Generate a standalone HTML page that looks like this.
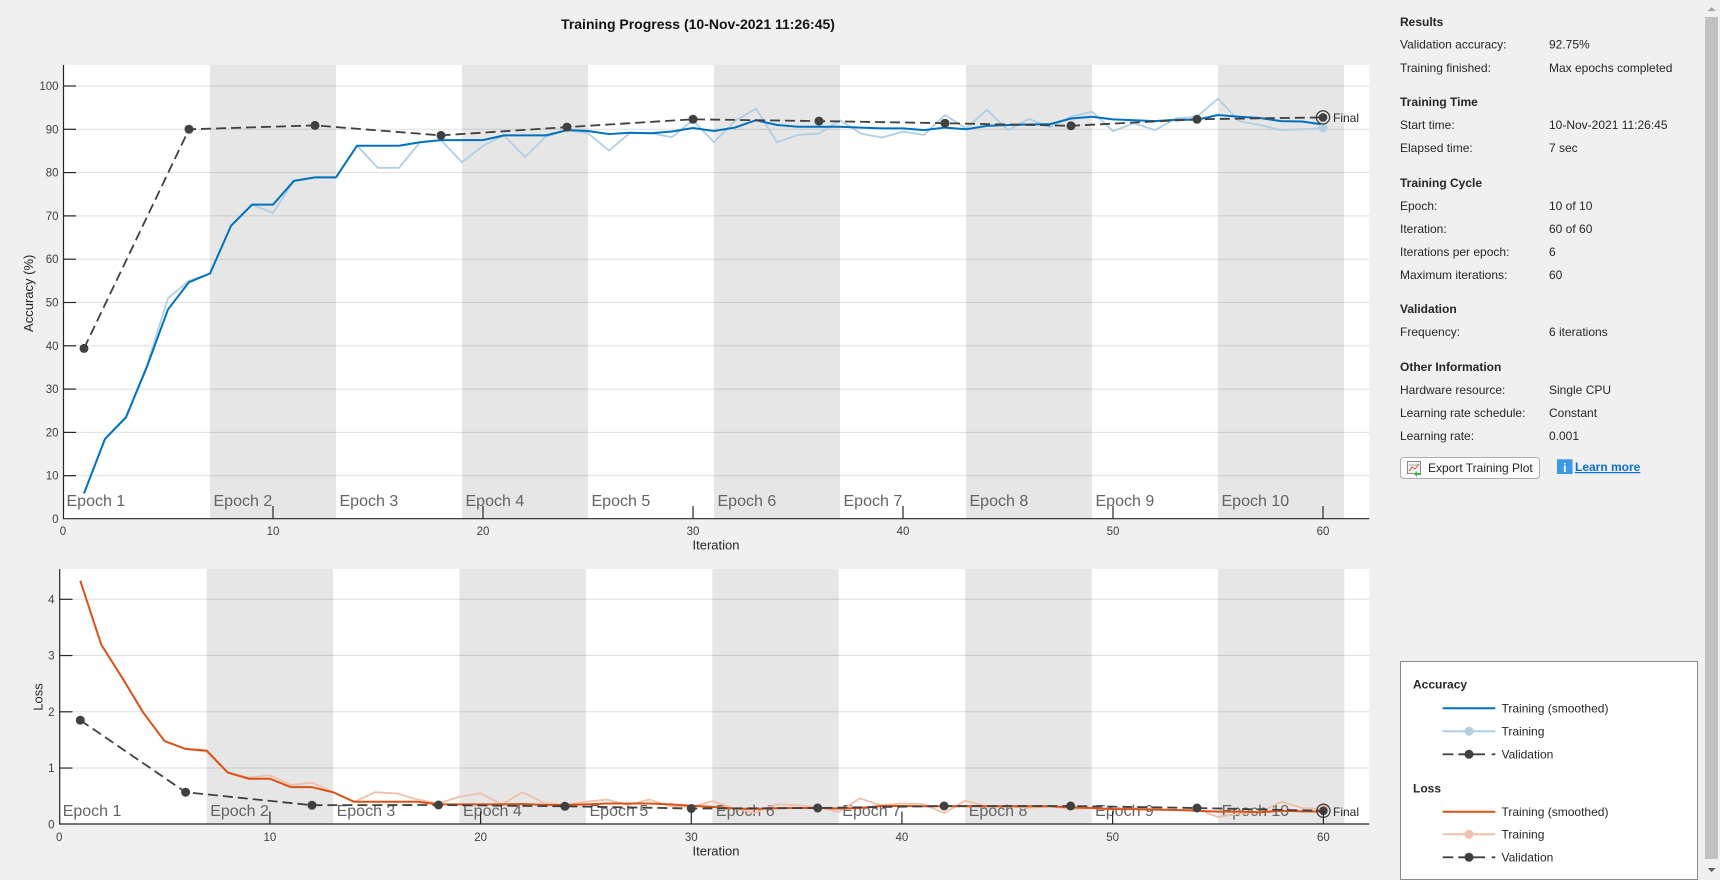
<!DOCTYPE html>
<html><head><meta charset="utf-8"><style>
html,body{margin:0;padding:0;background:#f0f0f0;width:1720px;height:880px;overflow:hidden}
svg{display:block}
text{font-family:"Liberation Sans",Arial,sans-serif}
</style></head><body>
<svg width="1720" height="880" viewBox="0 0 1720 880" xmlns="http://www.w3.org/2000/svg">
<rect x="0" y="0" width="1720" height="880" fill="#f0f0f0"/>

<!-- Title -->
<text x="698" y="29" text-anchor="middle" font-size="14" font-weight="bold" fill="#141414">Training Progress (10-Nov-2021 11:26:45)</text>

<!-- ================= TOP AXES ================= -->
<rect x="63" y="65" width="1306.3" height="454" fill="#ffffff"/>
<g fill="#e6e6e6">
<rect x="210" y="65" width="126" height="454"/>
<rect x="462" y="65" width="126" height="454"/>
<rect x="714" y="65" width="126" height="454"/>
<rect x="966" y="65" width="126" height="454"/>
<rect x="1218" y="65" width="126" height="454"/>
</g>
<g stroke="#262626" stroke-opacity="0.15" stroke-width="1">
<line x1="63" x2="1369.3" y1="475.7" y2="475.7"/>
<line x1="63" x2="1369.3" y1="432.4" y2="432.4"/>
<line x1="63" x2="1369.3" y1="389.1" y2="389.1"/>
<line x1="63" x2="1369.3" y1="345.8" y2="345.8"/>
<line x1="63" x2="1369.3" y1="302.5" y2="302.5"/>
<line x1="63" x2="1369.3" y1="259.2" y2="259.2"/>
<line x1="63" x2="1369.3" y1="215.9" y2="215.9"/>
<line x1="63" x2="1369.3" y1="172.6" y2="172.6"/>
<line x1="63" x2="1369.3" y1="129.3" y2="129.3"/>
<line x1="63" x2="1369.3" y1="86" y2="86"/>
</g>
<g font-size="16" fill="#646464">
<text x="66.5" y="506">Epoch 1</text>
<text x="213.5" y="506">Epoch 2</text>
<text x="339.5" y="506">Epoch 3</text>
<text x="465.5" y="506">Epoch 4</text>
<text x="591.5" y="506">Epoch 5</text>
<text x="717.5" y="506">Epoch 6</text>
<text x="843.5" y="506">Epoch 7</text>
<text x="969.5" y="506">Epoch 8</text>
<text x="1095.5" y="506">Epoch 9</text>
<text x="1221.5" y="506">Epoch 10</text>
</g>
<g transform="matrix(21 0 0 -4.33 63 519)" fill="none" stroke-linejoin="round">
<polyline vector-effect="non-scaling-stroke" stroke="#b0cfe6" stroke-width="1.8" points="1,5.9 2,18.5 3,23.5 4,35.5 5,51 6,55 7,56.7 8,67.7 9,72.6 10,70.7 11,78.1 12,78.9 13,78.9 14,86.2 15,81.1 16,81.1 17,87 18,87.5 19,82.4 20,86.2 21,88.6 22,83.6 23,88.3 24,89.8 25,89.1 26,85.1 27,89.2 28,89.1 29,88.2 30,92.1 31,87 32,91.9 33,94.8 34,87 35,88.7 36,89 37,92.1 38,89 39,88.1 40,89.5 41,88.7 42,93.3 43,90.2 44,94.5 45,89.8 46,92.4 47,90.5 48,92.9 49,94.1 50,89.6 51,91.4 52,89.8 53,92.5 54,92.9 55,97.1 56,91.9 57,91 58,89.8 59,90 60,90.3"/>
<polyline vector-effect="non-scaling-stroke" stroke="#0072bd" stroke-width="2" points="1,5.9 2,18.5 3,23.5 4,35.2 5,48.4 6,54.7 7,56.7 8,67.7 9,72.6 10,72.6 11,78.1 12,78.9 13,78.9 14,86.2 15,86.2 16,86.2 17,87 18,87.5 19,87.5 20,87.5 21,88.6 22,88.6 23,88.6 24,89.8 25,89.6 26,88.9 27,89.2 28,89.1 29,89.5 30,90.3 31,89.6 32,90.4 33,92.1 34,91 35,90.6 36,90.6 37,90.6 38,90.4 39,90.2 40,90.2 41,89.8 42,90.4 43,90 44,90.8 45,91 46,91.1 47,91.2 48,92.5 49,92.9 50,92.3 51,92.1 52,91.9 53,92.2 54,92.2 55,93.3 56,92.9 57,92.6 58,91.9 59,91.8 60,91.1"/>
</g>
<circle cx="1323" cy="128" r="4.5" fill="#b0cfe6"/>
<polyline fill="none" stroke="#404040" stroke-width="1.8" stroke-dasharray="10,5" points="84,348.4 189,129.3 315,125.4 441,135.4 567,127.1 693,119.3 819,121.1 945,123.2 1071,125.8 1197,119.3 1323,117.4"/>
<g fill="#404040">
<circle cx="84" cy="348.4" r="4.5"/>
<circle cx="189" cy="129.3" r="4.5"/>
<circle cx="315" cy="125.4" r="4.5"/>
<circle cx="441" cy="135.4" r="4.5"/>
<circle cx="567" cy="127.1" r="4.5"/>
<circle cx="693" cy="119.3" r="4.5"/>
<circle cx="819" cy="121.1" r="4.5"/>
<circle cx="945" cy="123.2" r="4.5"/>
<circle cx="1071" cy="125.8" r="4.5"/>
<circle cx="1197" cy="119.3" r="4.5"/>
<circle cx="1323" cy="117.4" r="4.3"/>
</g>
<circle cx="1323" cy="117.4" r="6.6" fill="none" stroke="#404040" stroke-width="1.3"/>
<text x="1333" y="122" font-size="12" fill="#262626">Final</text>
<!-- axes lines & ticks -->
<g stroke="#262626" stroke-width="1.2">
<line x1="63.5" y1="65" x2="63.5" y2="519"/>
<line x1="63" y1="518.7" x2="1369.3" y2="518.7"/>
<line x1="63" x2="76" y1="475.7" y2="475.7"/>
<line x1="63" x2="76" y1="432.4" y2="432.4"/>
<line x1="63" x2="76" y1="389.1" y2="389.1"/>
<line x1="63" x2="76" y1="345.8" y2="345.8"/>
<line x1="63" x2="76" y1="302.5" y2="302.5"/>
<line x1="63" x2="76" y1="259.2" y2="259.2"/>
<line x1="63" x2="76" y1="215.9" y2="215.9"/>
<line x1="63" x2="76" y1="172.6" y2="172.6"/>
<line x1="63" x2="76" y1="129.3" y2="129.3"/>
<line x1="63" x2="76" y1="86" y2="86"/>
<line x1="273" x2="273" y1="506" y2="519"/>
<line x1="483" x2="483" y1="506" y2="519"/>
<line x1="693" x2="693" y1="506" y2="519"/>
<line x1="903" x2="903" y1="506" y2="519"/>
<line x1="1113" x2="1113" y1="506" y2="519"/>
<line x1="1323" x2="1323" y1="506" y2="519"/>
</g>
<g font-size="11.5" fill="#404040" text-anchor="end">
<text x="58.5" y="523">0</text>
<text x="58.5" y="479.7">10</text>
<text x="58.5" y="436.4">20</text>
<text x="58.5" y="393.1">30</text>
<text x="58.5" y="349.8">40</text>
<text x="58.5" y="306.5">50</text>
<text x="58.5" y="263.2">60</text>
<text x="58.5" y="219.9">70</text>
<text x="58.5" y="176.6">80</text>
<text x="58.5" y="133.3">90</text>
<text x="58.5" y="90">100</text>
</g>
<g font-size="11.5" fill="#404040" text-anchor="middle">
<text x="63" y="535">0</text>
<text x="273" y="535">10</text>
<text x="483" y="535">20</text>
<text x="693" y="535">30</text>
<text x="903" y="535">40</text>
<text x="1113" y="535">50</text>
<text x="1323" y="535">60</text>
</g>
<text x="716" y="549.5" font-size="13" fill="#262626" text-anchor="middle">Iteration</text>
<text transform="translate(33,293.3) rotate(-90)" font-size="13" fill="#262626" text-anchor="middle">Accuracy (%)</text>

<!-- ================= BOTTOM AXES ================= -->
<rect x="59.2" y="569" width="1310.1" height="255.3" fill="#ffffff"/>
<g fill="#e6e6e6">
<rect x="206.7" y="569" width="126.4" height="255.3"/>
<rect x="459.5" y="569" width="126.4" height="255.3"/>
<rect x="712.4" y="569" width="126.4" height="255.3"/>
<rect x="965.2" y="569" width="126.4" height="255.3"/>
<rect x="1218" y="569" width="126.4" height="255.3"/>
</g>
<g stroke="#262626" stroke-opacity="0.15" stroke-width="1">
<line x1="59.2" x2="1369.3" y1="768.05" y2="768.05"/>
<line x1="59.2" x2="1369.3" y1="711.8" y2="711.8"/>
<line x1="59.2" x2="1369.3" y1="655.55" y2="655.55"/>
<line x1="59.2" x2="1369.3" y1="599.3" y2="599.3"/>
</g>
<g font-size="16" fill="#646464">
<text x="62.7" y="816">Epoch 1</text>
<text x="210.2" y="816">Epoch 2</text>
<text x="336.6" y="816">Epoch 3</text>
<text x="463" y="816">Epoch 4</text>
<text x="589.5" y="816">Epoch 5</text>
<text x="715.9" y="816">Epoch 6</text>
<text x="842.3" y="816">Epoch 7</text>
<text x="968.7" y="816">Epoch 8</text>
<text x="1095.1" y="816">Epoch 9</text>
<text x="1221.6" y="816">Epoch 10</text>
</g>
<g transform="matrix(21.07 0 0 -56.25 59.2 824.3)" fill="none" stroke-linejoin="round">
<polyline vector-effect="non-scaling-stroke" stroke="#f0c0a8" stroke-width="1.8" points="1,4.33 2,3.19 3,2.6 4,1.98 5,1.48 6,1.34 7,1.29 8,0.92 9,0.83 10,0.87 11,0.7 12,0.74 13,0.57 14,0.4 15,0.57 16,0.55 17,0.44 18,0.37 19,0.49 20,0.55 21,0.355 22,0.57 23,0.38 24,0.343 25,0.4 26,0.44 27,0.34 28,0.44 29,0.32 30,0.31 31,0.41 32,0.29 33,0.2 34,0.355 35,0.34 36,0.31 37,0.22 38,0.46 39,0.34 40,0.37 41,0.36 42,0.2 43,0.42 44,0.32 45,0.32 46,0.29 47,0.32 48,0.27 49,0.29 50,0.27 51,0.28 52,0.27 53,0.255 54,0.27 55,0.13 56,0.19 57,0.22 58,0.4 59,0.29 60,0.27"/>
<polyline vector-effect="non-scaling-stroke" stroke="#d95319" stroke-width="2" points="1,4.33 2,3.19 3,2.6 4,1.98 5,1.48 6,1.34 7,1.31 8,0.92 9,0.81 10,0.81 11,0.66 12,0.66 13,0.57 14,0.4 15,0.4 16,0.4 17,0.4 18,0.355 19,0.355 20,0.355 21,0.355 22,0.36 23,0.345 24,0.343 25,0.355 26,0.37 27,0.37 28,0.37 29,0.355 30,0.33 31,0.31 32,0.28 33,0.275 34,0.285 35,0.29 36,0.29 37,0.28 38,0.29 39,0.325 40,0.325 41,0.32 42,0.32 43,0.32 44,0.32 45,0.32 46,0.32 47,0.32 48,0.3 49,0.29 50,0.27 51,0.27 52,0.26 53,0.255 54,0.24 55,0.225 56,0.225 57,0.215 58,0.24 59,0.23 60,0.225"/>
</g>
<circle cx="1323.4" cy="809.1" r="4.5" fill="#f0c0a8"/>
<polyline fill="none" stroke="#404040" stroke-width="1.8" stroke-dasharray="10,5" points="80.3,720.2 185.6,792.2 312,805.2 438.5,805 564.9,806.3 691.3,808.5 817.7,808 944.1,806 1070.6,806 1197,808 1323.4,810.8"/>
<g fill="#404040">
<circle cx="80.3" cy="720.2" r="4.5"/>
<circle cx="185.6" cy="792.2" r="4.5"/>
<circle cx="312" cy="805.2" r="4.5"/>
<circle cx="438.5" cy="805" r="4.5"/>
<circle cx="564.9" cy="806.3" r="4.5"/>
<circle cx="691.3" cy="808.5" r="4.5"/>
<circle cx="817.7" cy="808" r="4.5"/>
<circle cx="944.1" cy="806" r="4.5"/>
<circle cx="1070.6" cy="806" r="4.5"/>
<circle cx="1197" cy="808" r="4.5"/>
<circle cx="1323.4" cy="810.8" r="4.3"/>
</g>
<circle cx="1323.4" cy="810.8" r="6.6" fill="none" stroke="#404040" stroke-width="1.3"/>
<text x="1333" y="816" font-size="12" fill="#262626">Final</text>
<g stroke="#262626" stroke-width="1.2">
<line x1="59.7" y1="569" x2="59.7" y2="824.3"/>
<line x1="59.2" y1="824" x2="1369.3" y2="824"/>
<line x1="59.2" x2="72.5" y1="768.05" y2="768.05"/>
<line x1="59.2" x2="72.5" y1="711.8" y2="711.8"/>
<line x1="59.2" x2="72.5" y1="655.55" y2="655.55"/>
<line x1="59.2" x2="72.5" y1="599.3" y2="599.3"/>
<line x1="269.9" x2="269.9" y1="811.5" y2="824.3"/>
<line x1="480.6" x2="480.6" y1="811.5" y2="824.3"/>
<line x1="691.3" x2="691.3" y1="811.5" y2="824.3"/>
<line x1="901.9" x2="901.9" y1="811.5" y2="824.3"/>
<line x1="1112.6" x2="1112.6" y1="811.5" y2="824.3"/>
<line x1="1323.4" x2="1323.4" y1="811.5" y2="824.3"/>
</g>
<g font-size="11.5" fill="#404040" text-anchor="end">
<text x="54.5" y="828.3">0</text>
<text x="54.5" y="772">1</text>
<text x="54.5" y="715.8">2</text>
<text x="54.5" y="659.5">3</text>
<text x="54.5" y="603.3">4</text>
</g>
<g font-size="11.5" fill="#404040" text-anchor="middle">
<text x="59.2" y="841">0</text>
<text x="269.9" y="841">10</text>
<text x="480.6" y="841">20</text>
<text x="691.3" y="841">30</text>
<text x="901.9" y="841">40</text>
<text x="1112.6" y="841">50</text>
<text x="1323.4" y="841">60</text>
</g>
<text x="716" y="855.5" font-size="13" fill="#262626" text-anchor="middle">Iteration</text>
<text transform="translate(42.5,697) rotate(-90)" font-size="13" fill="#262626" text-anchor="middle">Loss</text>

<!-- ================= RIGHT PANEL ================= -->
<g font-size="12" fill="#262626">
<text x="1400" y="26" font-weight="bold">Results</text>
<text x="1400" y="48.5">Validation accuracy:</text><text x="1549" y="48.5">92.75%</text>
<text x="1400" y="72">Training finished:</text><text x="1549" y="72">Max epochs completed</text>
<text x="1400" y="106" font-weight="bold">Training Time</text>
<text x="1400" y="129">Start time:</text><text x="1549" y="129">10-Nov-2021 11:26:45</text>
<text x="1400" y="152">Elapsed time:</text><text x="1549" y="152">7 sec</text>
<text x="1400" y="187" font-weight="bold">Training Cycle</text>
<text x="1400" y="210">Epoch:</text><text x="1549" y="210">10 of 10</text>
<text x="1400" y="233">Iteration:</text><text x="1549" y="233">60 of 60</text>
<text x="1400" y="256">Iterations per epoch:</text><text x="1549" y="256">6</text>
<text x="1400" y="279">Maximum iterations:</text><text x="1549" y="279">60</text>
<text x="1400" y="313" font-weight="bold">Validation</text>
<text x="1400" y="336">Frequency:</text><text x="1549" y="336">6 iterations</text>
<text x="1400" y="371" font-weight="bold">Other Information</text>
<text x="1400" y="394">Hardware resource:</text><text x="1549" y="394">Single CPU</text>
<text x="1400" y="417">Learning rate schedule:</text><text x="1549" y="417">Constant</text>
<text x="1400" y="440">Learning rate:</text><text x="1549" y="440">0.001</text>
</g>
<!-- Export button -->
<rect x="1400.5" y="457.5" width="139" height="21" rx="3" fill="#fbfbfb" stroke="#adadad"/>
<rect x="1407.5" y="461.5" width="13" height="12" fill="#eef3f8" stroke="#8a8a8a"/>
<line x1="1409" y1="465" x2="1419" y2="465" stroke="#b0b0b0"/>
<polyline points="1409,471 1412,467 1415,469 1419,464" fill="none" stroke="#d95319" stroke-width="1"/>
<path d="M1414,474 l3,-3 l0,2 l4,0 l0,2 l-4,0 l0,2 z" fill="#4caf50"/>
<text x="1428" y="472" font-size="12" fill="#262626">Export Training Plot</text>
<!-- Learn more -->
<rect x="1557" y="459.3" width="15.5" height="14.7" fill="#3a9ae8"/>
<text x="1564.8" y="472" font-size="12" font-weight="bold" fill="#ffffff" text-anchor="middle">i</text>
<text x="1575" y="471" font-size="12" font-weight="bold" fill="#0b6fd4" text-decoration="underline">Learn more</text>

<!-- Legend -->
<rect x="1400.5" y="661.5" width="297" height="218" fill="#ffffff" stroke="#8a8a8a"/>
<g font-size="12" fill="#262626">
<text x="1413" y="688.5" font-weight="bold">Accuracy</text>
<text x="1501.5" y="712.5">Training (smoothed)</text>
<text x="1501.5" y="735.5">Training</text>
<text x="1501.5" y="758.5">Validation</text>
<text x="1413" y="792.5" font-weight="bold">Loss</text>
<text x="1501.5" y="816">Training (smoothed)</text>
<text x="1501.5" y="838.5">Training</text>
<text x="1501.5" y="861.5">Validation</text>
</g>
<line x1="1442.7" y1="708.3" x2="1495.3" y2="708.3" stroke="#0072bd" stroke-width="2"/>
<line x1="1442.7" y1="731.3" x2="1495.3" y2="731.3" stroke="#b0cfe6" stroke-width="2"/>
<circle cx="1469" cy="731.3" r="4.5" fill="#b0cfe6"/>
<g stroke="#404040" stroke-width="1.8">
<line x1="1442.7" y1="754.3" x2="1453.3" y2="754.3"/>
<line x1="1458.3" y1="754.3" x2="1485" y2="754.3"/>
<line x1="1491.7" y1="754.3" x2="1495.3" y2="754.3"/>
</g>
<circle cx="1469" cy="754.3" r="4.5" fill="#404040"/>
<line x1="1442.7" y1="811.7" x2="1495.3" y2="811.7" stroke="#d95319" stroke-width="2"/>
<line x1="1442.7" y1="834.3" x2="1495.3" y2="834.3" stroke="#f0c0a8" stroke-width="2"/>
<circle cx="1469" cy="834.3" r="4.5" fill="#f0c0a8"/>
<g stroke="#404040" stroke-width="1.8">
<line x1="1442.7" y1="857.3" x2="1453.3" y2="857.3"/>
<line x1="1458.3" y1="857.3" x2="1485" y2="857.3"/>
<line x1="1491.7" y1="857.3" x2="1495.3" y2="857.3"/>
</g>
<circle cx="1469" cy="857.3" r="4.5" fill="#404040"/>

<!-- Scrollbar -->
<rect x="1703" y="0" width="17" height="880" fill="#f0f0f0"/>
<rect x="1705" y="17" width="13" height="842" fill="#c1c1c1"/>
<path d="M1707.7,11 L1711.7,7 L1715.7,11 Z" fill="#a3a3a3"/>
<path d="M1707.7,868 L1711.7,872 L1715.7,868 Z" fill="#606060"/>
</svg>
</body></html>
